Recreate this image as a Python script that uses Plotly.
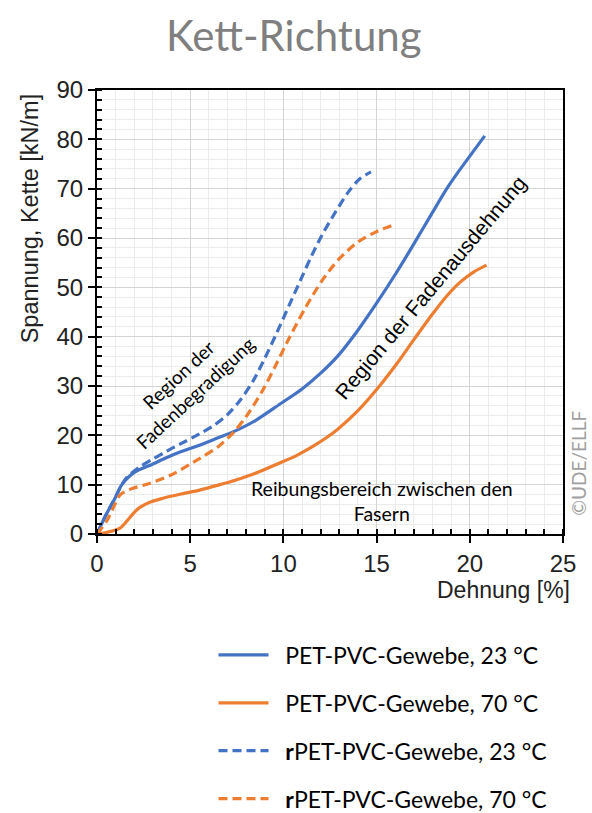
import plotly.graph_objects as go

# Data (Dehnung [%], Spannung [kN/m])
pet23_x = [0, 0.5, 1.0, 1.25, 1.5, 2.0, 3.0, 3.75, 4.45, 5.5, 6.5, 7.3, 8.5, 9.8, 11.0, 12.0, 12.9, 13.9, 15.0, 16.0, 17.0, 18.0, 18.8, 19.4, 20.0, 20.8]
pet23_y = [0, 4.0, 7.5, 9.5, 10.8, 12.5, 14.2, 15.5, 16.6, 18.0, 19.5, 20.7, 23.0, 26.3, 29.4, 32.6, 36.0, 40.8, 46.8, 52.6, 58.8, 65.2, 70.2, 73.5, 76.6, 80.7]

pet70_x = [0, 0.5, 1.23, 1.6, 2.0, 2.3, 2.8, 3.5, 4.5, 5.5, 6.5, 7.5, 8.5, 9.8, 10.7, 11.6, 12.3, 12.9, 14.0, 15.2, 16.1, 17.0, 18.0, 18.8, 19.5, 20.2, 20.9]
pet70_y = [0, 0.3, 1.2, 2.6, 4.4, 5.4, 6.4, 7.2, 8.1, 8.9, 9.9, 11.0, 12.3, 14.4, 15.9, 17.8, 19.5, 21.2, 25.0, 30.2, 34.6, 39.4, 44.6, 48.4, 51.1, 53.1, 54.5]

rpet23_x = [0, 0.5, 1.0, 1.3, 1.6, 2.3, 3.0, 3.75, 4.45, 5.5, 6.3, 7.0, 7.7, 8.37, 9.0, 9.66, 10.3, 10.9, 11.5, 12.1, 12.8, 13.5, 14.1, 14.7]
rpet23_y = [0, 4.0, 7.5, 9.8, 11.5, 13.6, 15.2, 16.8, 18.2, 20.3, 22.1, 24.2, 27.2, 31.0, 35.6, 40.9, 46.3, 51.3, 56.3, 60.8, 65.3, 69.4, 72.0, 73.4]

rpet70_x = [0, 0.5, 0.9, 1.23, 1.8, 2.85, 4.0, 5.5, 6.5, 7.3, 8.0, 8.9, 9.6, 10.35, 11.2, 12.1, 13.0, 14.0, 15.0, 16.0]
rpet70_y = [0, 2.5, 5.5, 7.9, 9.1, 10.3, 12.0, 15.3, 17.7, 20.5, 23.8, 29.2, 34.3, 40.0, 46.0, 51.5, 55.8, 59.2, 61.3, 62.8]

x_ticks = [0, 5, 10, 15, 20, 25]
y_ticks = [0, 10, 20, 30, 40, 50, 60, 70, 80, 90]

BLUE = "#4472C4"
ORANGE = "#ED7D31"
LEG_FONT = "Lato, 'Open Sans', sans-serif"
AX_FONT = "'Liberation Sans', Arial, sans-serif"
PAD = "\u00a0\u00a0"

fig = go.Figure()
series = [
    (pet23_x, pet23_y, BLUE, "solid", PAD + "PET-PVC-Gewebe, 23 °C"),
    (pet70_x, pet70_y, ORANGE, "solid", PAD + "PET-PVC-Gewebe, 70 °C"),
    (rpet23_x, rpet23_y, BLUE, "9px,5px", PAD + "<b>r</b>PET-PVC-Gewebe, 23 °C"),
    (rpet70_x, rpet70_y, ORANGE, "9px,5px", PAD + "<b>r</b>PET-PVC-Gewebe, 70 °C"),
]
for i, (xs, ys, col, dash, name) in enumerate(series):
    fig.add_trace(go.Scatter(
        x=xs, y=ys, mode="lines", name=name, legendgroup=f"g{i}",
        line=dict(color=col, width=3.2, dash=dash, shape="spline", smoothing=0.8),
    ))

axis_common = dict(
    showline=True, linecolor="black", linewidth=2, mirror=True,
    showgrid=True, gridcolor="#d4d4d4", gridwidth=1,
    ticks="outside", ticklen=7, tickcolor="black", tickwidth=1.5,
    tickfont=dict(family=AX_FONT, size=24, color="#222222"),
    zeroline=False,
)
fig.update_xaxes(range=[0, 25], tickvals=x_ticks, **axis_common,
                 minor=dict(dtick=1, showgrid=True, gridcolor="#ececec",
                            ticks="inside", ticklen=5, tickcolor="black"))
fig.update_yaxes(range=[0, 90], tickvals=y_ticks, **axis_common,
                 minor=dict(dtick=2, showgrid=True, gridcolor="#ececec",
                            ticks="inside", ticklen=5, tickcolor="black"))

annotations = [
    dict(text="Kett-Richtung", xref="paper", yref="paper", x=0.423, y=1.124,
         xanchor="center", yanchor="middle", showarrow=False,
         font=dict(family=LEG_FONT, size=42, color="#7f7f7f")),
    dict(text="Spannung, Kette [kN/m]", xref="paper", yref="paper", x=-0.145, y=0.712,
         xanchor="center", yanchor="middle", showarrow=False, textangle=-90,
         font=dict(family=AX_FONT, size=23.5, color="#222222")),
    dict(text="Dehnung [%]", xref="paper", yref="paper", x=1.02, y=-0.127,
         xanchor="right", yanchor="middle", showarrow=False,
         font=dict(family=AX_FONT, size=23, color="#222222")),
    dict(text="Region der<br>Fadenbegradigung", x=4.8, y=30.5, showarrow=False,
         textangle=-43, font=dict(family=LEG_FONT, size=19, color="black")),
    dict(text="Region der Fadenausdehnung", x=17.9, y=49.9, showarrow=False,
         textangle=-50, font=dict(family=AX_FONT, size=21, color="black")),
    dict(text="Reibungsbereich zwischen den<br>Fasern", x=15.3, y=6.7, showarrow=False,
         font=dict(family=LEG_FONT, size=19.5, color="black")),
    dict(text="©UDE/ELLF", xref="paper", yref="paper", x=1.034, y=0.16,
         xanchor="center", yanchor="middle", showarrow=False, textangle=-90,
         font=dict(family=LEG_FONT, size=19, color="#a0a0a0")),
]

fig.update_layout(
    width=592, height=813,
    margin=dict(l=97, r=29, t=90, b=279, autoexpand=False),
    paper_bgcolor="white", plot_bgcolor="white",
    annotations=annotations,
    showlegend=True,
    legend=dict(x=0.25, y=-0.224, xanchor="left", yanchor="top",
                font=dict(family=LEG_FONT, size=23, color="black"),
                tracegroupgap=15, itemwidth=50, bgcolor="rgba(0,0,0,0)"),
)

fig.write_html("out.html")
